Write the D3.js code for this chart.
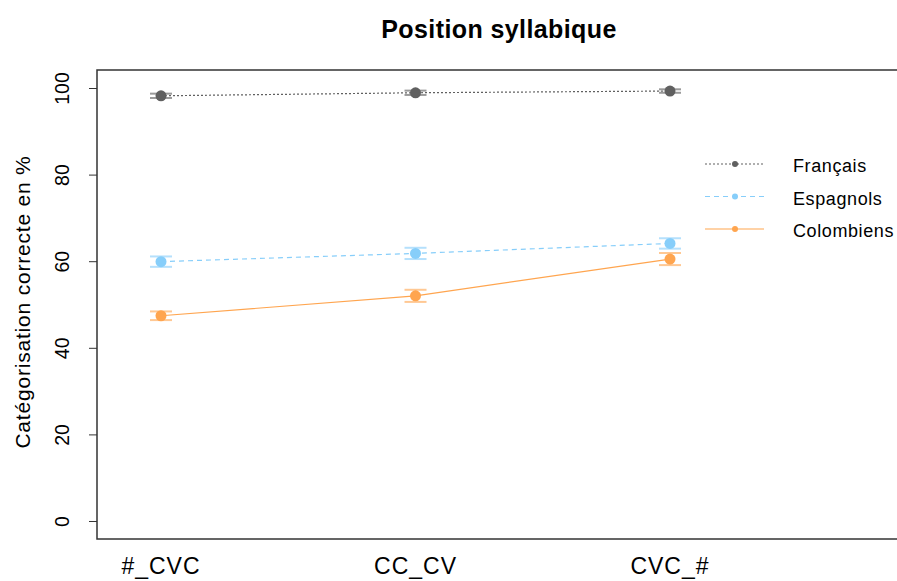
<!DOCTYPE html>
<html><head><meta charset="utf-8">
<script src="https://cdn.jsdelivr.net/npm/d3@7"></script>
<style>body{margin:0;background:#fff}svg{display:block}text{font-family:"Liberation Sans",Arial,sans-serif}</style>
</head><body>
<script>
const categories = ["#_CVC", "CC_CV", "CVC_#"];
const seriesNames = ["Français", "Espagnols", "Colombiens"];
const francais = [98.2, 98.9, 99.3];
const espagnols = [59.9, 61.8, 64.1];
const colombiens = [47.4, 52.0, 60.5];
const errFrancais = [0.5, 0.5, 0.4];
const errEspagnols = [1.2, 1.3, 1.2];
const errColombiens = [1.0, 1.4, 1.4];
const yTicks = [0, 20, 40, 60, 80, 100];

const W = 897, H = 581;
const svg = d3.select("body").append("svg").attr("width", W).attr("height", H);

const x = d3.scaleLinear().domain([0.7485, 4.5]).range([97, 97 + 3.7515 * 254.5]);
const y = d3.scaleLinear().domain([-4.16, 104.16]).range([539, 70]);

const series = [
  {name: seriesNames[0], vals: francais, err: errFrancais, col: "#606060", err_col: "#9a9a9a", dash: "2,2"},
  {name: seriesNames[1], vals: espagnols, err: errEspagnols, col: "#87cefa", err_col: "#b5e0fc", dash: "5,4"},
  {name: seriesNames[2], vals: colombiens, err: errColombiens, col: "#ffa54f", err_col: "#ffc893", dash: null}
];

// title
svg.append("text").attr("x", 499).attr("y", 38).attr("text-anchor", "middle")
  .attr("font-size", 25).attr("letter-spacing", 0.4).attr("font-weight", "bold").text("Position syllabique");

// y axis
const yAxis = d3.axisLeft(y).tickValues(yTicks).tickSize(8).tickPadding(6);
const ga = svg.append("g").attr("transform", "translate(97,0)").call(yAxis);
ga.select(".domain").remove();
ga.selectAll(".tick line").attr("stroke", "#333");
ga.selectAll(".tick text").attr("font-size", 19.5).attr("fill", "#000")
  .attr("text-anchor", "middle").attr("dy", 0)
  .attr("transform", "translate(-35,0) rotate(-90)")
  .attr("x", 0).attr("y", 7);

// y label
svg.append("text").attr("transform", "translate(30,302) rotate(-90)")
  .attr("text-anchor", "middle").attr("font-size", 21).attr("letter-spacing", 0.8)
  .text("Catégorisation correcte en %");

// x labels
categories.forEach((c, i) => {
  svg.append("text").attr("x", x(i + 1)).attr("y", 574).attr("text-anchor", "middle")
    .attr("font-size", 23).attr("letter-spacing", 1).text(c);
});

// box
svg.append("rect").attr("x", 97).attr("y", 70).attr("width", 1000).attr("height", 469)
  .attr("fill", "none").attr("stroke", "#333").attr("stroke-width", 1.5);

const line = d3.line().x((d, i) => x(i + 1)).y(d => y(d));

series.forEach(s => {
  svg.append("path").datum(s.vals).attr("d", line).attr("fill", "none")
    .attr("stroke", s.col).attr("stroke-width", 1.2)
    .attr("stroke-dasharray", s.dash);
  s.vals.forEach((v, i) => {
    const cx = x(i + 1);
    const g = svg.append("g");
    [v - s.err[i], v + s.err[i]].forEach(e => {
      g.append("line").attr("x1", cx - 11).attr("x2", cx + 11).attr("y1", y(e)).attr("y2", y(e))
        .attr("stroke", s.err_col).attr("stroke-width", 2);
    });
    g.append("line").attr("x1", cx).attr("x2", cx).attr("y1", y(v - s.err[i])).attr("y2", y(v + s.err[i]))
      .attr("stroke", s.err_col).attr("stroke-width", 2);
    g.append("circle").attr("cx", cx).attr("cy", y(v)).attr("r", 5.5).attr("fill", s.col);
  });
});

// legend
const legY = [164, 196.5, 229];
series.forEach((s, i) => {
  const ly = legY[i];
  svg.append("line").attr("x1", 705).attr("x2", 764).attr("y1", ly).attr("y2", ly)
    .attr("stroke", s.col).attr("stroke-width", 1.2).attr("stroke-dasharray", s.dash);
  svg.append("circle").attr("cx", 735).attr("cy", ly).attr("r", 3).attr("fill", s.col);
  svg.append("text").attr("x", 793).attr("y", ly + 8).attr("font-size", 18).attr("letter-spacing", 0.6).text(s.name);
});
</script>
</body></html>
